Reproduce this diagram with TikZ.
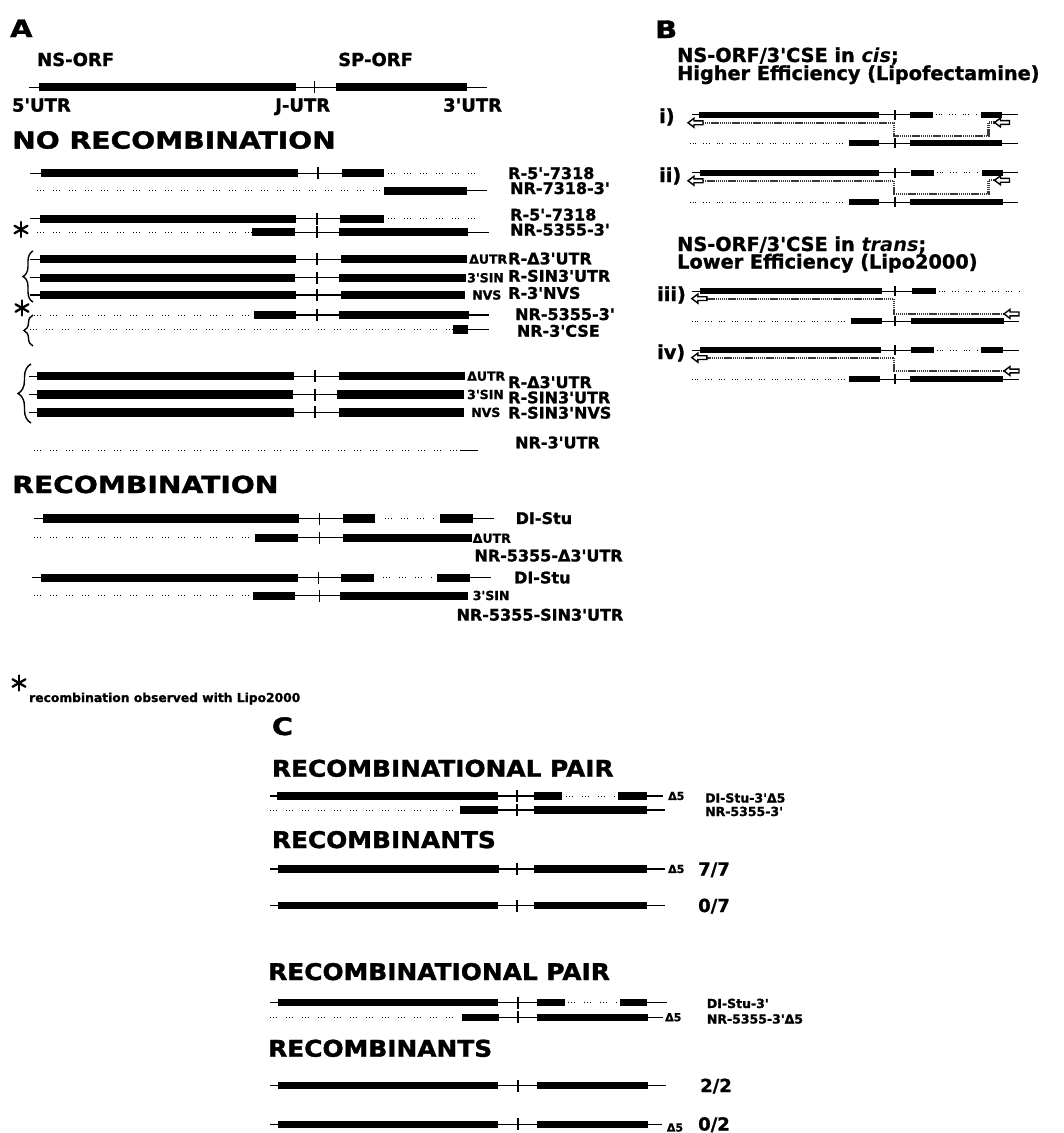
\documentclass[tikz,border=0pt]{standalone}
\usepackage{fontspec}
\setmainfont{DejaVu Sans}[Ligatures=TeXOff,BoldFeatures={FakeBold=1.2}]
\newfontfamily\wideA{DejaVu Sans}[Ligatures=TeXOff,FakeStretch=1.2,BoldFeatures={FakeBold=1.5}]
\newfontfamily\wideC{DejaVu Sans}[Ligatures=TeXOff,FakeStretch=1.08,BoldFeatures={FakeBold=1.5}]
\usetikzlibrary{decorations.pathreplacing}

\tikzset{
  kbar/.style={line width=8.2pt},
  kbarB/.style={line width=6pt},
  kbarC/.style={line width=7.5pt},
  hair/.style={line width=1.1pt},
  dotln/.style={line width=1pt, dash pattern=on 1pt off 2pt on 1pt off 2pt on 1pt off 9pt},
  dotB/.style={line width=0.9pt, dash pattern=on 0.9pt off 1.8pt on 0.9pt off 1.8pt on 0.9pt off 7pt},
  tickln/.style={line width=1.8pt},
  route/.style={line width=2.1pt, black!78, dash pattern=on 1.4pt off 0.7pt},
  harrow/.style={line width=1.4pt, fill=white, draw=black},
  brc/.style={decorate, decoration={brace, amplitude=#1}, line width=1.4pt},
  astln/.style={line width=2.3pt, line cap=round},
  ttlA/.style={inner sep=0pt, anchor=base west, font=\wideA\bfseries\fontsize{23.5}{23.5}\selectfont},
  ttlC/.style={inner sep=0pt, anchor=base west, font=\wideC\bfseries\fontsize{23}{23}\selectfont},
  pnl/.style={inner sep=0pt, anchor=base west, font=\wideA\bfseries\fontsize{24}{24}\selectfont},
  top/.style={inner sep=0pt, anchor=base west, font=\bfseries\fontsize{18}{18}\selectfont},
  lbl/.style={inner sep=0pt, anchor=base west, font=\bfseries\fontsize{16}{16}\selectfont},
  lblB/.style={inner sep=0pt, anchor=base west, font=\bfseries\fontsize{19.3}{19.3}\selectfont},
  lblC/.style={inner sep=0pt, anchor=base west, font=\bfseries\fontsize{12.5}{12.5}\selectfont},
  frac/.style={inner sep=0pt, anchor=base west, font=\bfseries\fontsize{18}{18}\selectfont},
  sml/.style={inner sep=0pt, anchor=west, font=\bfseries\fontsize{12.5}{12.5}\selectfont},
  smlC/.style={inner sep=0pt, anchor=west, font=\bfseries\fontsize{11}{11}\selectfont},
  note/.style={inner sep=0pt, anchor=base west, font=\bfseries\fontsize{12.3}{12.3}\selectfont},
}

\newcommand{\segK}[4][kbar]{\draw[#1] (#2,#4) -- (#3,#4);}
\newcommand{\segN}[3]{\draw[hair] (#1,#3) -- (#2,#3);}
\newcommand{\segD}[4][dotln]{\draw[#1] (#2,#4) -- (#3,#4);}
\newcommand{\segT}[3][6]{\draw[tickln] (#2,#3-#1) -- (#2,#3+#1);}
\newcommand{\harrowL}[2]{\draw[harrow] (#1,#2) -- ++(6,-4.5) -- ++(0,2.6) -- ++(9,0) -- ++(0,3.8) -- ++(-9,0) -- ++(0,2.6) -- cycle;}
\newcommand{\astmark}[2]{\draw[astln] (#1,#2-7.5) -- (#1,#2+7.5);
  \draw[astln] (#1-6.5,#2-3.75) -- (#1+6.5,#2+3.75);
  \draw[astln] (#1-6.5,#2+3.75) -- (#1+6.5,#2-3.75);}

\begin{document}
\begin{tikzpicture}[x=1pt,y=-1pt]
\useasboundingbox (0,0) rectangle (1064,1133);
\fill[white] (0,0) rectangle (1064,1133);

% ================= PANEL A =================
\node[pnl] (pA) at (10,37) {A};
\node[top] (nsorf) at (37,66) {NS-ORF};
\node[top] (sporf) at (338,66) {SP-ORF};
\segN{28.7}{486.8}{87.2}
\segK{38.9}{295.8}{87.2}
\segT{314.4}{87.2}
\segK{336.4}{466.5}{87.2}
\node[top] (utr5) at (11.8,111.6) {5'UTR};
\node[top] (jutr) at (275,111.6) {J-UTR};
\node[top] (utr3) at (443,111.6) {3'UTR};

\node[ttlA] (norec) at (12,148.6) {NO RECOMBINATION};

% row 1
\segN{30.4}{341.5}{173.3}
\segK{40.6}{297.5}{173.3}
\segT{317.8}{173.3}
\segK{341.5}{383.7}{173.3}
\segD{388}{480}{173.3}
% row 2
\segD{37.2}{383.7}{190.9}
\segN{466.5}{486.8}{190.9}
\segK{383.7}{466.5}{190.9}
% row 3
\segN{30.4}{340.4}{218.9}
\segK{39.9}{295.8}{218.9}
\segT{317}{218.9}
\segK{340.4}{383.7}{218.9}
\segD{388}{480}{218.9}
% row 4
\segD{37}{251.9}{232.1}
\segN{251.9}{489.2}{232.1}
\segK{251.9}{295.1}{232.1}
\segT{317}{232.1}
\segK{338.7}{468.2}{232.1}
\astmark{21}{229.5}

\node[lbl] (l1) at (508,179) {R-5'-7318};
\node[lbl] (l2) at (510,194) {NR-7318-3'};
\node[lbl] (l3) at (510,220.5) {R-5'-7318};
\node[lbl] (l4) at (510,235.5) {NR-5355-3'};

% group 1
\segN{30.4}{340.8}{259.2}
\segK{39.9}{295.8}{259.2}
\segT{317}{259.2}
\segK{340.8}{466.5}{259.2}
\node[sml] (s1) at (469,259.2) {ΔUTR};
\segN{30.4}{339}{277.8}
\segK{39.9}{294.8}{277.8}
\segT{317}{277.8}
\segK{339}{466}{277.8}
\node[sml] (s2) at (467,277.8) {3'SIN};
\segN{30.4}{340.8}{295}
\segK{40}{295.8}{295}
\segT{317}{295}
\segK{340.8}{464.8}{295}
\node[sml] (s3) at (472,295) {NVS};
\segD{33.8}{253.5}{315}
\segN{253.5}{489}{315}
\segK{253.5}{295.8}{315}
\segT{317}{315}
\segK{339}{469}{315}
\segD{30.4}{453}{329.5}
\segN{453}{489}{329.5}
\segK{453}{468}{329.5}
\draw[brc=10pt] (33,302) -- (33,251);
\draw[brc=9pt] (33,346) -- (33,315);
\astmark{22}{308}

\node[lbl] (l5) at (508,264.3) {R-Δ3'UTR};
\node[lbl] (l6) at (508,281.7) {R-SIN3'UTR};
\node[lbl] (l7) at (508,298.8) {R-3'NVS};
\node[lbl] (l8) at (515,320) {NR-5355-3'};
\node[lbl] (l9) at (516.7,336.7) {NR-3'CSE};

% group 2
\segN{28.7}{338.7}{376.2}
\segK{37.2}{294.1}{376.2}
\segT{315}{376.2}
\segK{338.7}{464.8}{376.2}
\node[sml] (s4) at (467,376.2) {ΔUTR};
\segN{28.7}{337.4}{394.5}
\segK{37}{293.4}{394.5}
\segT{315}{394.5}
\segK{337.4}{463.8}{394.5}
\node[sml] (s5) at (467,394.5) {3'SIN};
\segN{28.7}{338.7}{412.4}
\segK{37}{294}{412.4}
\segT{315}{412.4}
\segK{338.7}{463.8}{412.4}
\node[sml] (s6) at (471,412.4) {NVS};
\draw[brc=13pt] (31,423) -- (31,364);
\segD{33.8}{460}{450.6}
\segN{460}{478.4}{450.6}

\node[lbl] (l10) at (508,388) {R-Δ3'UTR};
\node[lbl] (l11) at (508,403.3) {R-SIN3'UTR};
\node[lbl] (l12) at (508,418.6) {R-SIN3'NVS};
\node[lbl] (l13) at (515,448.3) {NR-3'UTR};

% recombination
\node[ttlA] (rec) at (12,493) {RECOMBINATION};
\segN{33.8}{343}{518.5}
\segK{43.3}{299.2}{518.5}
\segT{319.5}{518.5}
\segK{343}{375.3}{518.5}
\segD{385.4}{436}{518.5}
\segN{472.6}{493.6}{518.5}
\segK{439.5}{472.6}{518.5}
\node[lbl] (l14) at (515.5,524) {DI-Stu};

\segD{33.8}{255.2}{537.8}
\segN{255.2}{343}{537.8}
\segK{255.2}{298.2}{537.8}
\segT{319.5}{537.8}
\segK{343}{471.6}{537.8}
\node[sml] (s7) at (472.6,538.3) {ΔUTR};
\node[lbl] (l15) at (474.3,561.4) {NR-5355-Δ3'UTR};

\segN{32}{341.4}{577.6}
\segK{41.2}{297.5}{577.6}
\segT{318.5}{577.6}
\segK{341.4}{373.6}{577.6}
\segD{383}{433}{577.6}
\segN{470}{491}{577.6}
\segK{437}{470}{577.6}
\node[lbl] (l16) at (513.9,583.4) {DI-Stu};

\segD{33.8}{252.9}{595.9}
\segN{252.9}{339.8}{595.9}
\segK{252.9}{295.1}{595.9}
\segT{319.5}{595.9}
\segK{339.8}{468.2}{595.9}
\node[sml] (s8) at (472.6,595.5) {3'SIN};
\node[lbl] (l17) at (456.4,620.6) {NR-5355-SIN3'UTR};

\astmark{19}{683}
\node[note] (fn) at (29,702) {recombination observed with Lipo2000};

% ================= PANEL B =================
\node[pnl] (pB) at (655,38) {B};
\node[lblB] (bt1) at (677,62) {NS-ORF/3'CSE in \textit{cis};};
\node[lblB] (bt2) at (677,80) {Higher Efficiency (Lipofectamine)};
\node[lblB] (bt3) at (677,251) {NS-ORF/3'CSE in \textit{trans};};
\node[lblB] (bt4) at (677,268.5) {Lower Efficiency (Lipo2000)};
\node[lblB] (bi) at (659,123) {i)};
\node[lblB] (bii) at (659,182) {ii)};
\node[lblB] (biii) at (657,301) {iii)};
\node[lblB] (biv) at (657,359) {iv)};

\begin{scope}[xshift=5pt]
% i)
\segN{687}{905}{114.5}
\segK[kbarB]{693.5}{873.5}{114.5}
\segT[5]{890}{114.5}
\segK[kbarB]{905}{928}{114.5}
\segD[dotB]{931}{972}{114.5}
\segN{997}{1013}{114.5}
\segK[kbarB]{975.7}{997}{114.5}
\draw[route] (989.5,122.5) -- (983.5,122.5) -- (983.5,136) -- (889,136) -- (889,122.8) -- (698,122.8);
\harrowL{989.5}{122.5}
\harrowL{683}{122.8}
\segD[dotB]{685}{844}{143.4}
\segN{873.5}{1013}{143.4}
\segK[kbarB]{844}{873.5}{143.4}
\segT[5]{890}{143.4}
\segK[kbarB]{905}{997}{143.4}

% ii)
\segN{687}{905}{172.5}
\segK[kbarB]{694.7}{874}{172.5}
\segT[5]{890}{172.5}
\segK[kbarB]{905.5}{929}{172.5}
\segD[dotB]{932}{972}{172.5}
\segN{998}{1013}{172.5}
\segK[kbarB]{976.5}{998}{172.5}
\draw[route] (989.5,180.3) -- (983.5,180.3) -- (983.5,194) -- (889,194) -- (889,180.8) -- (698,180.8);
\harrowL{989.5}{180.3}
\harrowL{683}{180.8}
\segD[dotB]{685}{844}{202.4}
\segN{873.5}{1013}{202.4}
\segK[kbarB]{844}{873.5}{202.4}
\segT[5]{890}{202.4}
\segK[kbarB]{905}{998}{202.4}

% iii)
\segN{687}{907}{291.3}
\segK[kbarB]{694.7}{877.4}{291.3}
\segT[5]{890}{291.3}
\segK[kbarB]{907}{930.5}{291.3}
\segD[dotB]{934}{1015}{291.3}
\draw[route] (999,313.9) -- (889,313.9) -- (889,298.6) -- (700,298.6);
\harrowL{999}{313.9}
\harrowL{686.8}{298.6}
\segD[dotB]{687}{846}{321.2}
\segN{876.6}{1014}{321.2}
\segK[kbarB]{846}{876.6}{321.2}
\segT[5]{890}{321.2}
\segK[kbarB]{906}{999}{321.2}

% iv)
\segN{687}{905.7}{350.3}
\segK[kbarB]{694.7}{875.5}{350.3}
\segT[5]{890}{350.3}
\segK[kbarB]{905.7}{928.5}{350.3}
\segD[dotB]{932}{972}{350.3}
\segN{998}{1014}{350.3}
\segK[kbarB]{975.7}{998}{350.3}
\draw[route] (999,371) -- (889,371) -- (889,357.6) -- (700,357.6);
\harrowL{999}{371}
\harrowL{686.8}{357.6}
\segD[dotB]{687}{844}{379.2}
\segN{874.7}{1014}{379.2}
\segK[kbarB]{844}{874.7}{379.2}
\segT[5]{890}{379.2}
\segK[kbarB]{905}{998}{379.2}
\end{scope}

% ================= PANEL C =================
\node[pnl] (pC) at (271.7,735) {C};
\node[ttlC] (rp1) at (271.7,776.7) {RECOMBINATIONAL PAIR};
\segN{270}{534}{796}
\segK[kbarC]{276.7}{497.7}{796}
\segT{516.7}{796}
\segK[kbarC]{534}{562.3}{796}
\segD{566}{616}{796}
\segN{646.7}{663.3}{796}
\segK[kbarC]{618.3}{646.7}{796}
\node[smlC] (d1) at (668,796) {Δ5};
\segD{270}{460}{810}
\segN{460}{665}{810}
\segK[kbarC]{460}{497.7}{810}
\segT{516.7}{810}
\segK[kbarC]{534}{646.7}{810}
\node[lblC] (c1) at (705,802.5) {DI-Stu-3'Δ5};
\node[lblC] (c2) at (705,816) {NR-5355-3'};

\node[ttlC] (rs1) at (271.7,848) {RECOMBINANTS};
\segN{270}{665}{869}
\segK[kbarC]{278}{499}{869}
\segT{516.7}{869}
\segK[kbarC]{534}{647.3}{869}
\node[smlC] (d2) at (668,869) {Δ5};
\node[frac] (f1) at (698,875.5) {7/7};
\segN{270}{665}{905.7}
\segK[kbarC]{278}{498.3}{905.7}
\segT{516.7}{905.7}
\segK[kbarC]{534}{646.7}{905.7}
\node[frac] (f2) at (698,912) {0/7};

\node[ttlC] (rp2) at (268,980) {RECOMBINATIONAL PAIR};
\segN{270}{536.7}{1002.7}
\segK[kbarC]{278}{498.3}{1002.7}
\segT{518.3}{1002.7}
\segK[kbarC]{536.7}{565}{1002.7}
\segD{568}{616.7}{1002.7}
\segN{647.3}{666.7}{1002.7}
\segK[kbarC]{620}{647.3}{1002.7}
\segD{270}{461.7}{1017.3}
\segN{461.7}{663.3}{1017.3}
\segK[kbarC]{461.7}{499.3}{1017.3}
\segT{518.3}{1017.3}
\segK[kbarC]{536.7}{648.3}{1017.3}
\node[smlC] (d3) at (665,1017.3) {Δ5};
\node[lblC] (c3) at (706.7,1008) {DI-Stu-3'};
\node[lblC] (c4) at (706.7,1023.5) {NR-5355-3'Δ5};

\node[ttlC] (rs2) at (268,1056.7) {RECOMBINANTS};
\segN{270}{666}{1085.7}
\segK[kbarC]{278}{498.3}{1085.7}
\segT{518.3}{1085.7}
\segK[kbarC]{536.7}{648.3}{1085.7}
\node[frac] (f3) at (700,1092) {2/2};
\segN{270}{661.7}{1124.3}
\segK[kbarC]{278}{498.3}{1124.3}
\segT{518.3}{1124.3}
\segK[kbarC]{536.7}{648.3}{1124.3}
\node[smlC] (d4) at (666.7,1127.5) {Δ5};
\node[frac] (f4) at (698,1130.5) {0/2};
\end{tikzpicture}
\end{document}
